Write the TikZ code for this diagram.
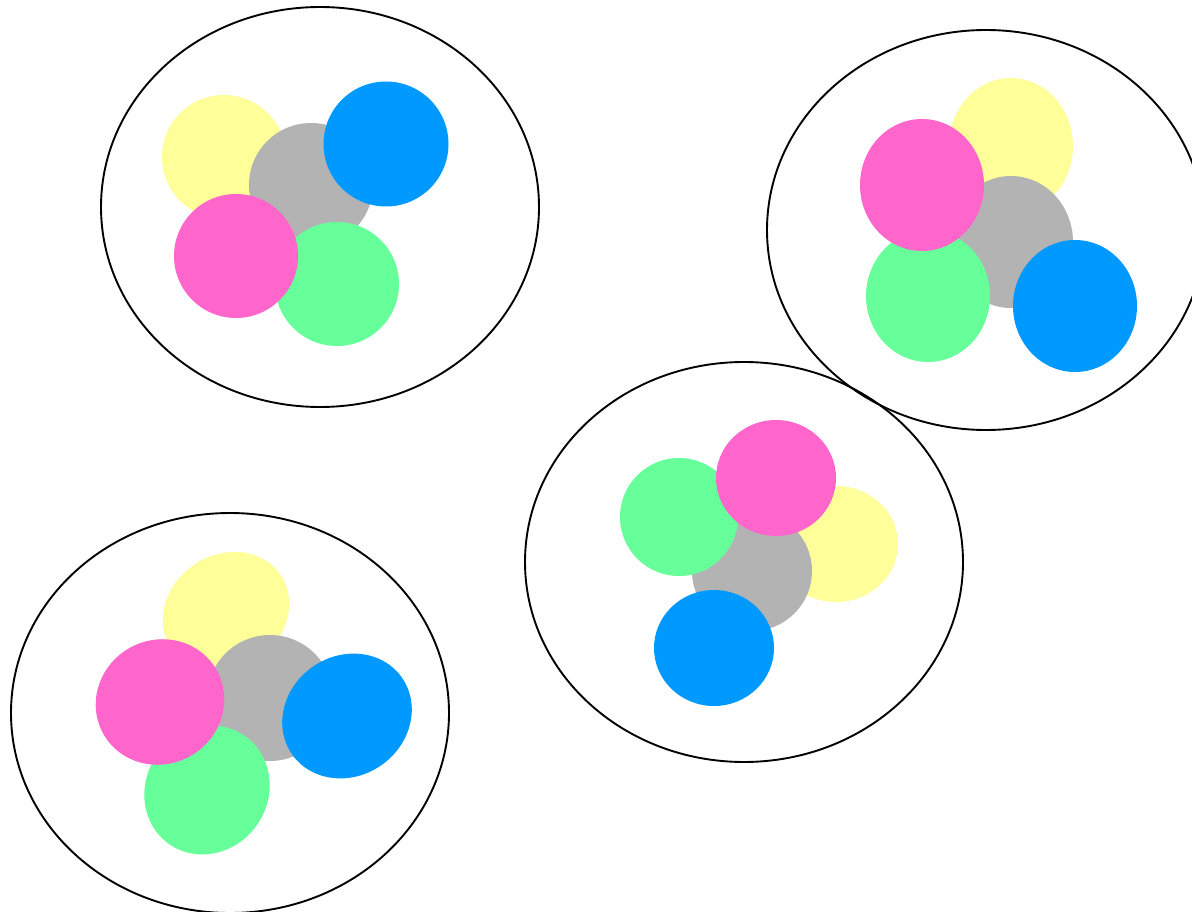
\documentclass[tikz,border=0pt]{standalone}
\begin{document}
\begin{tikzpicture}[x=1pt,y=-1pt,
  outer/.style={draw=black,line width=1.9pt},
  cy/.style={fill=ylw},cg/.style={fill=gry},cb/.style={fill=blu},
  cn/.style={fill=grn},cp/.style={fill=pnk}]
\definecolor{ylw}{HTML}{FFFF99}
\definecolor{gry}{HTML}{B3B3B3}
\definecolor{blu}{HTML}{0099FF}
\definecolor{grn}{HTML}{66FF99}
\definecolor{pnk}{HTML}{FF66CC}
\useasboundingbox (0,0) rectangle (1192,912);
\begin{scope}
\clip (0,0) rectangle (1192,912);
% group 1
\draw[outer] (320,207) ellipse [x radius=219, y radius=200];
\fill[cy] (224,157) circle [radius=62];
\fill[cg] (311,185) circle [radius=62];
\fill[cb] (386,144) circle [radius=62.5];
\fill[cn] (337,284) circle [radius=62];
\fill[cp] (236,256) circle [radius=62];
% group 2
\draw[outer] (986,230) ellipse [x radius=219, y radius=200];
\fill[cy] (1011,146) ellipse [x radius=62, y radius=68];
\fill[cg] (1011,242) ellipse [x radius=62, y radius=66];
\fill[cn] (928,296) ellipse [x radius=62, y radius=66];
\fill[cp] (922,185) ellipse [x radius=62, y radius=66];
\fill[cb] (1075,306) ellipse [x radius=62, y radius=66];
% group 3
\draw[outer] (744,562) ellipse [x radius=219, y radius=200];
\fill[cy] (836,544) ellipse [x radius=62, y radius=58];
\fill[cg] (752,571) ellipse [x radius=60, y radius=60];
\fill[cn] (679,517) ellipse [x radius=59, y radius=59];
\fill[cp] (776,478) ellipse [x radius=60, y radius=58];
\fill[cb] (714,648) ellipse [x radius=60, y radius=58];
% group 4
\draw[outer] (230,713) ellipse [x radius=219, y radius=200];
\fill[cy,rotate around={35:(226,612)}] (226,612) ellipse [x radius=66, y radius=57];
\fill[cg] (270,698) circle [radius=63];
\fill[cn,rotate around={55:(207,790)}] (207,790) ellipse [x radius=66, y radius=61];
\fill[cp,rotate around={30:(160,702)}] (160,702) ellipse [x radius=65, y radius=62];
\fill[cb,rotate around={35:(347,716)}] (347,716) ellipse [x radius=67, y radius=60];
\end{scope}
\end{tikzpicture}
\end{document}
